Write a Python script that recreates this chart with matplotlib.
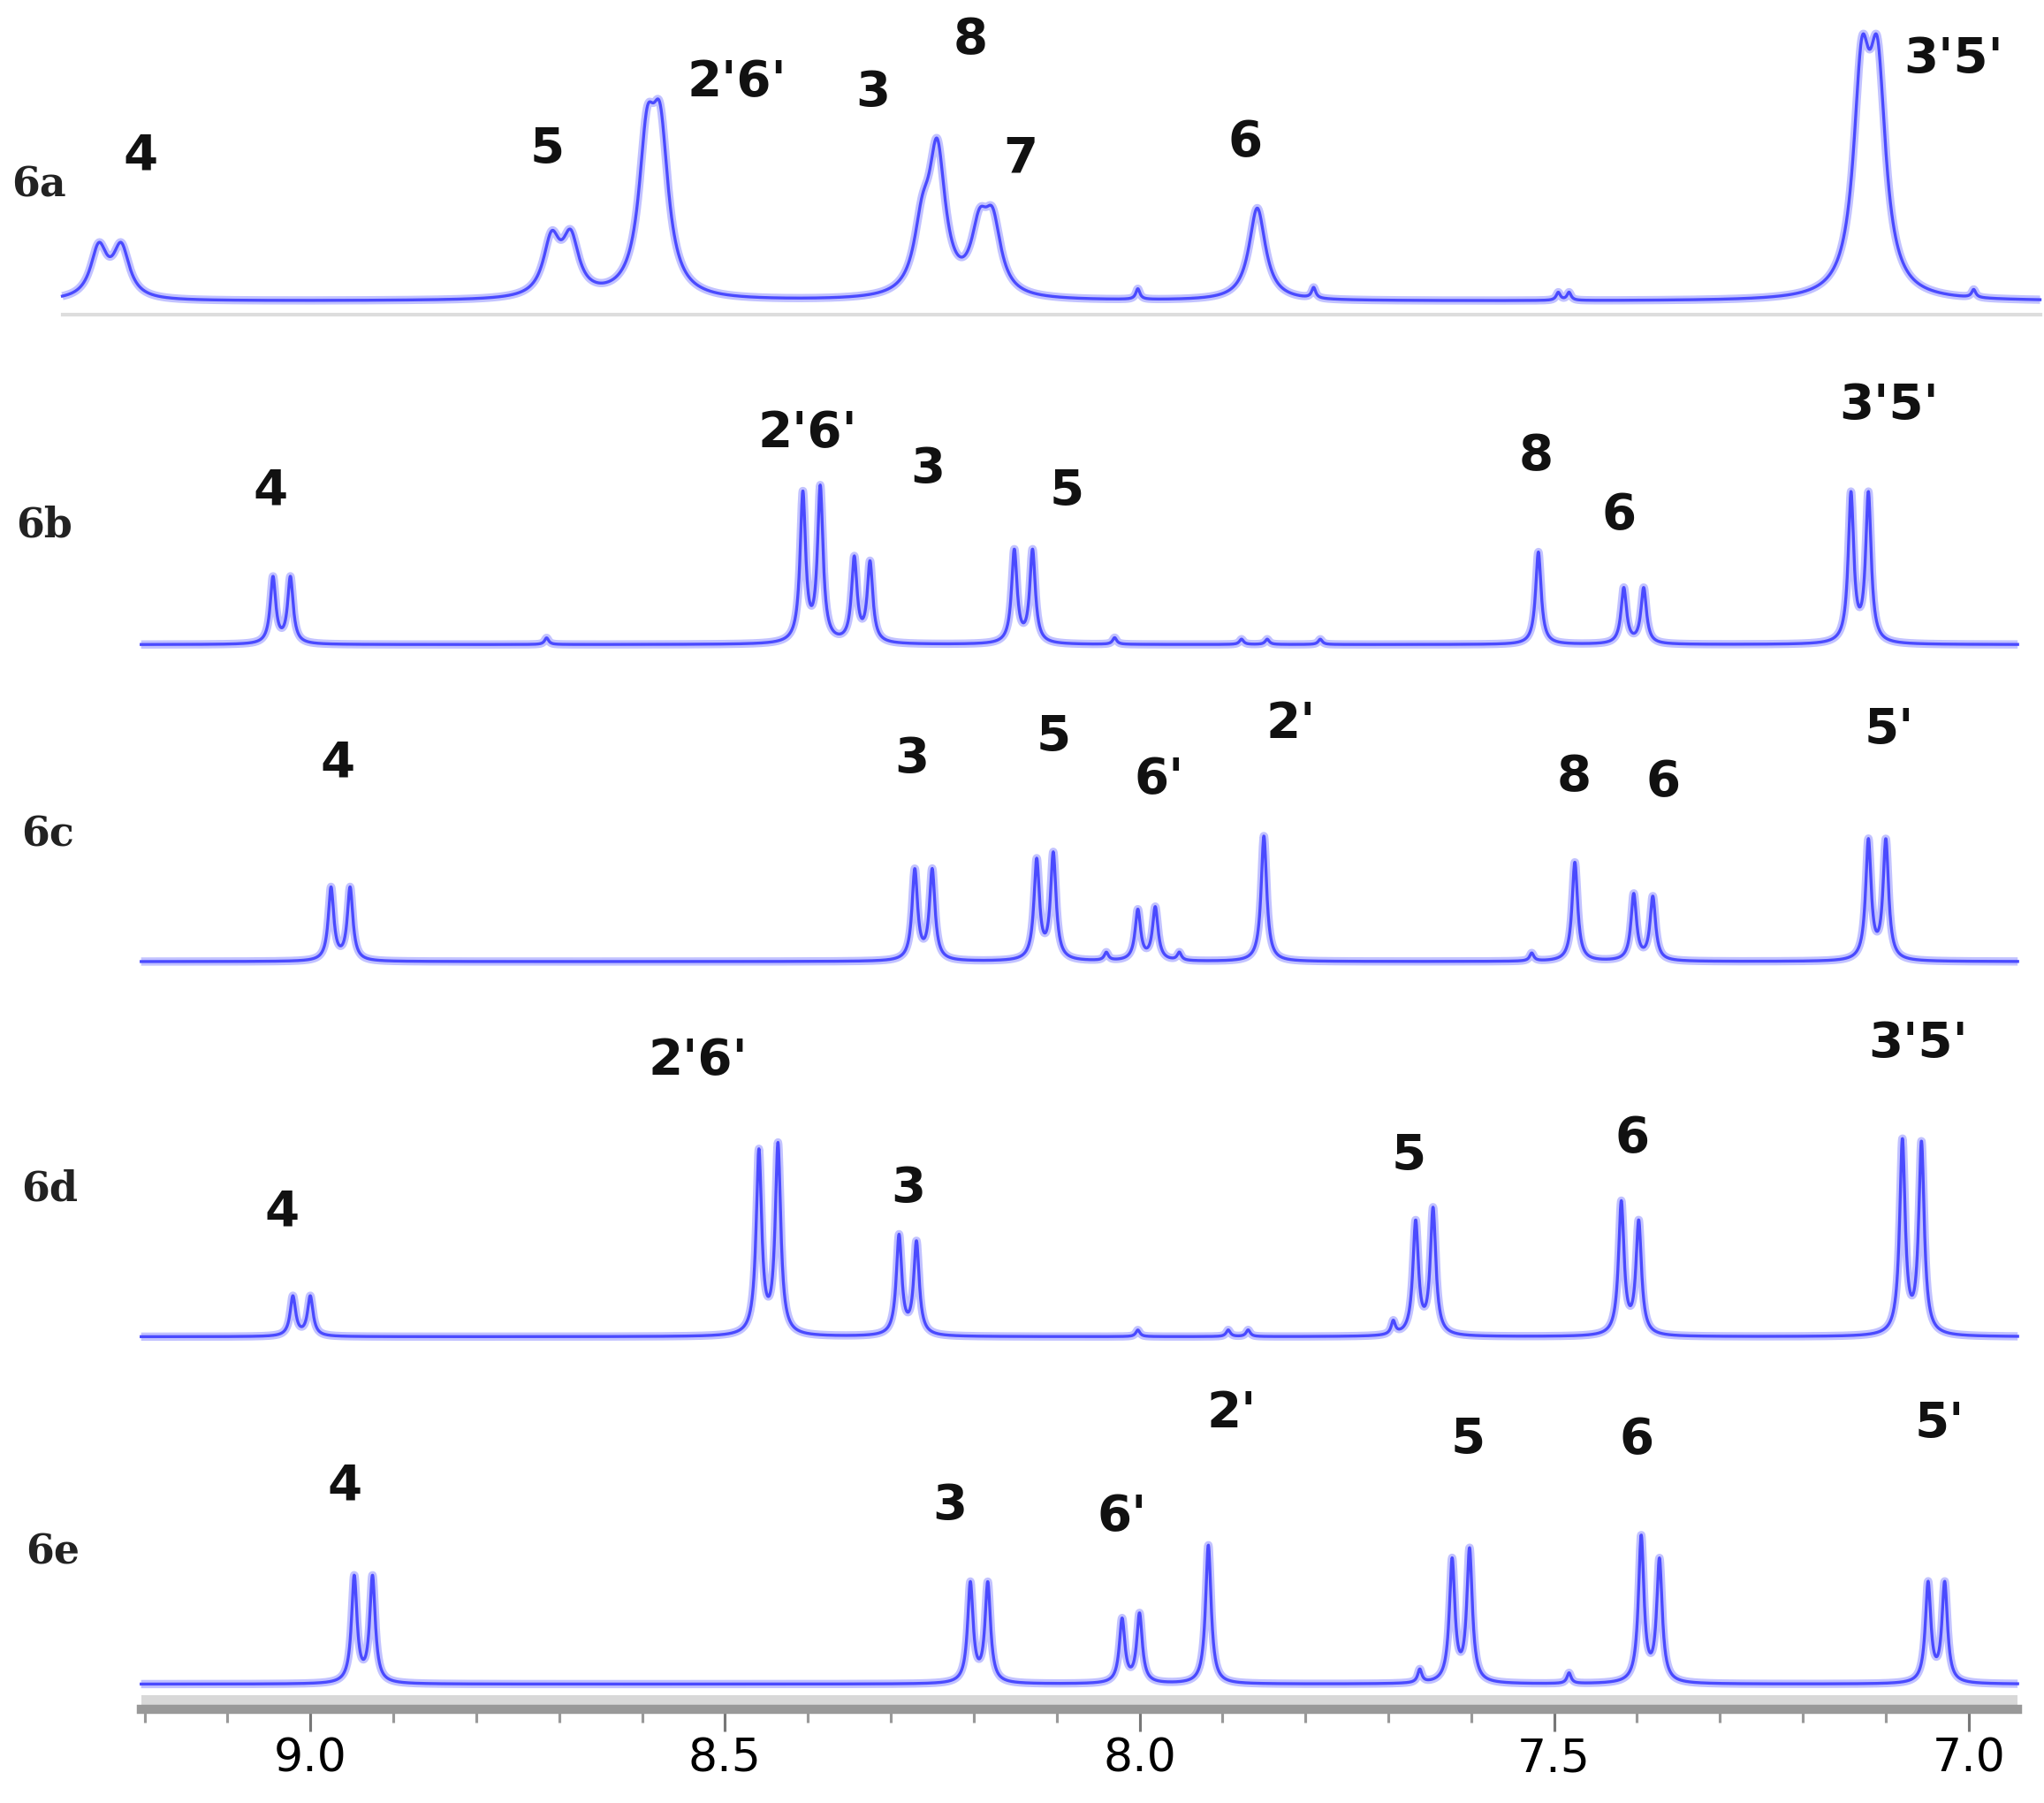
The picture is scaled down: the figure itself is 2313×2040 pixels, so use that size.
import numpy as np
import matplotlib
matplotlib.use("Agg")
import matplotlib.pyplot as plt
from matplotlib.ticker import MultipleLocator

# ---- data (ppm, intensity in arbitrary units) ----
names = ["6a", "6b", "6c", "6d", "6e"]
baselines = [228, 488, 728, 1012, 1275]
widths = [0.012, 0.004, 0.004, 0.004, 0.004]
ranges = [(9.299, 6.914), (9.204, 6.941), (9.204, 6.941), (9.204, 6.941), (9.204, 6.941)]

pos_6a = [9.255, 9.228, 8.709, 8.686, 8.594, 8.578, 8.262, 8.244, 8.193, 8.177, 7.858, 8.002, 7.790, 7.495, 7.482, 7.129, 7.110, 6.994]
h_6a = [38, 38, 42, 42, 105, 110, 45, 105, 45, 50, 70, 8, 8, 6, 6, 155, 155, 6]
pos_6b = [9.045, 9.024, 8.715, 8.406, 8.385, 8.344, 8.325, 8.151, 8.129, 8.030, 7.519, 7.416, 7.392, 7.142, 7.121, 7.877, 7.846, 7.782]
h_6b = [50, 50, 5, 112, 116, 63, 60, 70, 70, 5, 70, 42, 42, 112, 112, 4, 4, 4]
pos_6c = [8.975, 8.952, 8.271, 8.250, 8.124, 8.104, 8.002, 7.981, 7.850, 7.475, 7.404, 7.381, 7.121, 7.100, 8.040, 7.952, 7.527]
h_6c = [55, 55, 68, 68, 75, 80, 38, 40, 95, 75, 50, 48, 90, 90, 6, 6, 6]
pos_6d = [9.021, 9.000, 8.459, 8.436, 8.290, 8.269, 7.667, 7.646, 7.419, 7.398, 7.080, 7.057, 8.002, 7.893, 7.869, 7.694]
h_6d = [30, 30, 138, 143, 75, 70, 85, 95, 100, 85, 146, 144, 5, 5, 5, 10]
pos_6e = [8.947, 8.925, 8.204, 8.183, 8.021, 8.000, 7.917, 7.623, 7.602, 7.395, 7.373, 7.049, 7.029, 7.662, 7.482]
h_6e = [80, 80, 75, 75, 48, 52, 105, 92, 100, 110, 92, 75, 75, 10, 8]
positions = [pos_6a, pos_6b, pos_6c, pos_6d, pos_6e]
heights = [h_6a, h_6b, h_6c, h_6d, h_6e]

# peak labels: (text, ppm, y)
labels_6a = [("4", 9.205, 118), ("5", 8.714, 113), ("2'6'", 8.486, 62), ("3", 8.322, 70), ("8", 8.204, 30),
             ("7", 8.144, 120), ("6", 7.873, 108), ("3'5'", 7.018, 45)]
labels_6b = [("4", 9.048, 372), ("2'6'", 8.400, 328), ("3", 8.255, 355), ("5", 8.088, 372), ("8", 7.522, 345),
             ("6", 7.422, 390), ("3'5'", 7.096, 307)]
labels_6c = [("4", 8.967, 578), ("3", 8.275, 575), ("5", 8.104, 558), ("6'", 7.976, 590), ("2'", 7.818, 548),
             ("8", 7.476, 588), ("6", 7.368, 592), ("5'", 7.096, 553)]
labels_6d = [("4", 9.034, 918), ("2'6'", 8.532, 803), ("3", 8.279, 900), ("5", 7.675, 875), ("6", 7.406, 862),
             ("3'5'", 7.061, 790)]
labels_6e = [("4", 8.959, 1125), ("3", 8.229, 1140), ("6'", 8.021, 1148), ("2'", 7.889, 1070), ("5", 7.604, 1090),
             ("6", 7.400, 1090), ("5'", 7.035, 1078)]
peak_labels = [labels_6a, labels_6b, labels_6c, labels_6d, labels_6e]
name_pos = [(9.327, 140), (9.321, 398), (9.317, 632), (9.314, 900), (9.311, 1175)]
ticks_major = [9.0, 8.5, 8.0, 7.5, 7.0]

W, H = 1548, 1365
x_left, x_right = 9.0 + 235 / 628, 9.0 - (W - 235) / 628

fig = plt.figure(figsize=(2313 / 150, 2040 / 150), dpi=150)
ax = fig.add_axes([0, 0, 1, 1])
ax.set_xlim(x_left, x_right)
ax.set_ylim(H, 0)
ax.axis("off")

color = "#4a4aff"
for name, base, w, rng, pos, hs, labs, npos in zip(names, baselines, widths, ranges, positions, heights,
                                                     peak_labels, name_pos):
    x = np.linspace(rng[0], rng[1], 6000)
    y = np.zeros_like(x)
    for p, h in zip(pos, hs):
        ww = w if h > 20 else 0.003
        y += h * ww ** 2 / ((x - p) ** 2 + ww ** 2)
    ax.plot(x, base - y, color="#9a9aff", lw=4.5, alpha=0.6, solid_capstyle="butt")
    ax.plot(x, base - y, color=color, lw=1.6)
    if name == "6a":
        ax.plot([rng[0], rng[1]], [base + 10, base + 10], color="#dddddd", lw=2)
    for t, px, py in labs:
        ax.text(px, py, t, fontsize=27, fontweight="bold", ha="center", va="center",
                family="DejaVu Sans", color="#111111")
    ax.text(npos[0], npos[1], name, fontsize=22, fontweight="bold", ha="center", va="center",
            family="DejaVu Serif", color="#222222")

# bottom scale
bx = fig.add_axes([107 / W, 0.052, 1421 / W, 0.008])
bx.set_xlim(9.204, 6.941)
bx.set_ylim(0, 1)
bx.set_facecolor("#d8d8d8")
for s in ["top", "left", "right"]:
    bx.spines[s].set_visible(False)
bx.spines["bottom"].set_color("#999999")
bx.spines["bottom"].set_linewidth(5)
bx.set_yticks([])
bx.set_xticks(ticks_major)
bx.set_xticklabels([f"{t:.1f}" for t in ticks_major], fontsize=25, family="DejaVu Sans Condensed")
bx.xaxis.set_minor_locator(MultipleLocator(0.1))
bx.tick_params(axis="x", which="major", length=12, width=1.5, color="#777777", pad=3)
bx.tick_params(axis="x", which="minor", length=7, width=1.5, color="#999999")

fig.savefig("out.png", dpi=150)
